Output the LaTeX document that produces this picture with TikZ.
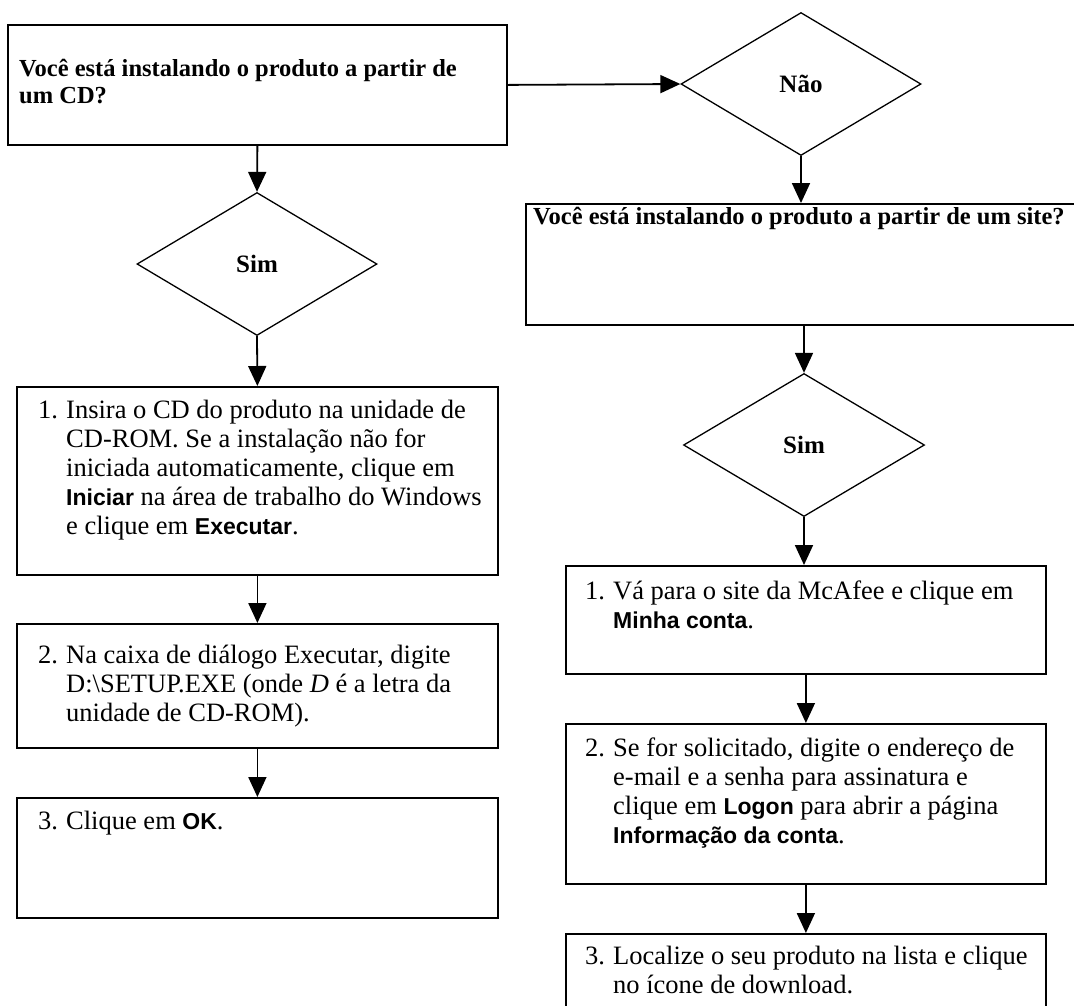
\documentclass[tikz,border=0pt]{standalone}
\usepackage{fontspec}
\setmainfont{Liberation Serif}
\newfontfamily\hvfont{Liberation Sans}
\usetikzlibrary{shapes.geometric,arrows.meta}
\newcommand{\sbf}[1]{{\hvfont\bfseries\fontsize{23}{29}\selectfont #1}}
\newcommand{\hang}[1]{\makebox[28pt][l]{#1}}
\newcommand{\ind}{\hspace*{28pt}}
\tikzset{
  box/.style={draw, rectangle, line width=1.8pt, inner sep=0pt, anchor=north west},
  dia/.style={draw, diamond, line width=1.3pt, inner sep=0pt, aspect=1.68,
              font=\bfseries\fontsize{25}{27}\selectfont},
  txt/.style={inner sep=0pt, align=left, anchor=north west,
              font=\fontsize{26.5}{29}\selectfont},
  btxt/.style={inner sep=0pt, align=left, anchor=north west,
              font=\bfseries\fontsize{24.5}{27}\selectfont},
  arr/.style={line width=1.8pt, -{Triangle[length=20pt,width=18pt]}}
}
\begin{document}
\begin{tikzpicture}[x=1pt,y=-1pt]
\clip (0,0) rectangle (1074,1005);
\fill[white] (0,0) rectangle (1074,1005);
% left column
\node[box, minimum width=499, minimum height=120] (A) at (7,24) {};
\node[btxt] (At) at (19,59) {Você está instalando o produto a partir de\\um CD?};
\node[dia, minimum width=240, minimum height=143] (S1) at (257,264) {Sim};
\node[box, minimum width=481, minimum height=188] (B) at (16,386) {};
\node[txt] (Bt) at (38,399.5) {\hang{1.}Insira o CD do produto na unidade de\\
\ind CD-ROM. Se a instalação não for\\
\ind iniciada automaticamente, clique em\\
\ind \sbf{Iniciar} na área de trabalho do Windows\\
\ind e clique em \sbf{Executar}.};
\node[box, minimum width=481, minimum height=124] (C) at (16,623) {};
\node[txt] (Ct) at (38,644.5) {\hang{2.}Na caixa de diálogo Executar, digite\\
\ind D:\textbackslash SETUP.EXE (onde \textit{D} é a letra da\\
\ind unidade de CD-ROM).};
\node[box, minimum width=481, minimum height=120] (D) at (16,797) {};
\node[txt] (Dt) at (38,810.5) {\hang{3.}Clique em \sbf{OK}.};
% right column
\node[dia, minimum width=240, minimum height=143] (N) at (801,84) {Não};
\node[box, minimum width=560, minimum height=121] (E) at (525,203) {};
\node[btxt] (Et) at (533,207) {Você está instalando o produto a partir de um site?};
\node[dia, minimum width=241, minimum height=143] (S2) at (804,445) {Sim};
\node[box, minimum width=480, minimum height=108] (F) at (565,565) {};
\node[txt] (Ft) at (585,580.5) {\hang{1.}Vá para o site da McAfee e clique em\\
\ind \sbf{Minha conta}.};
\node[box, minimum width=480, minimum height=160] (G) at (565,723) {};
\node[txt] (Gt) at (585,737.5) {\hang{2.}Se for solicitado, digite o endereço de\\
\ind e-mail e a senha para assinatura e\\
\ind clique em \sbf{Logon} para abrir a página\\
\ind \sbf{Informação da conta}.};
\node[box, minimum width=480, minimum height=100] (H) at (565,933) {};
\node[txt] (Ht) at (585,945.5) {\hang{3.}Localize o seu produto na lista e clique\\
\ind no ícone de download.};
% connectors
\draw[arr] (A.south) -- (S1.north);
\draw[arr] (S1.south) -- (B.north);
\draw[arr] (B.south) -- (C.north);
\draw[arr] (C.south) -- (D.north);
\draw[arr] (A.east) -- (N.west);
\draw[arr] (N.south) -- (N.south |- E.north);
\draw[arr] (S2.north |- E.south) -- (S2.north);
\draw[arr] (S2.south) -- (S2.south |- F.north);
\draw[arr] (F.south) -- (G.north);
\draw[arr] (G.south) -- (H.north);
\end{tikzpicture}
\end{document}
